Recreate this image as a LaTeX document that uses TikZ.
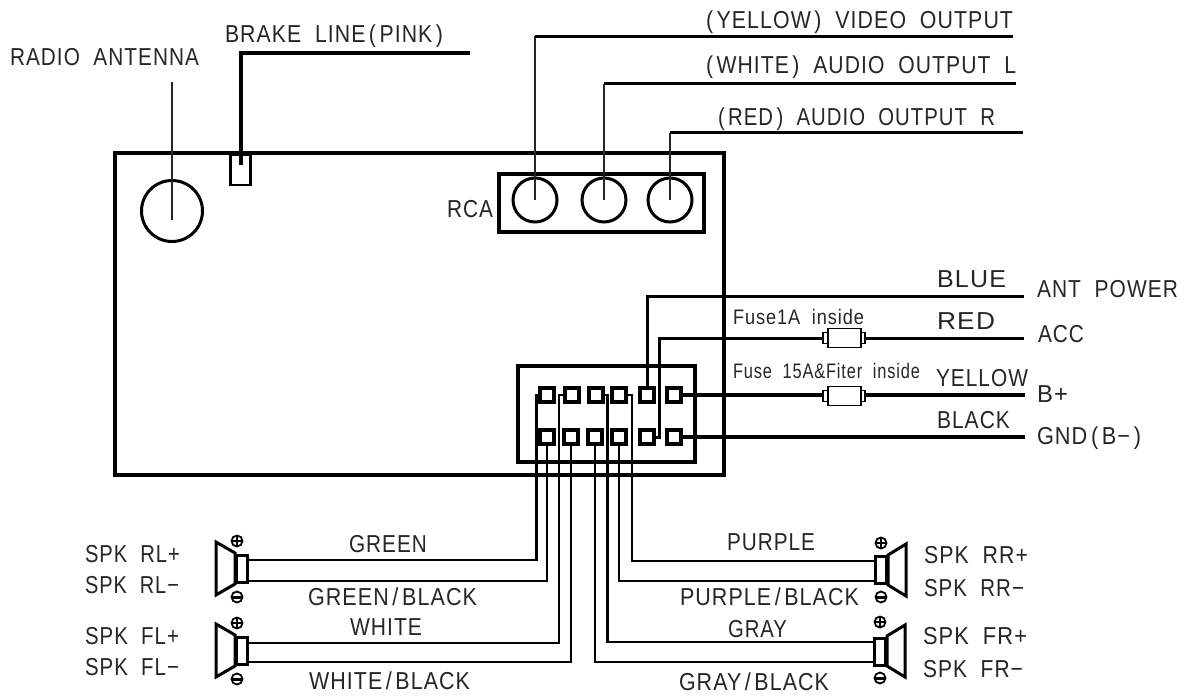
\documentclass[tikz,border=0pt]{standalone}
\usepackage{fontspec}
\usepackage{graphicx}
\setmainfont[LetterSpace=5]{Liberation Sans}
\usetikzlibrary{calc}
\newcommand\Fit[2]{\resizebox{#1pt}{\height}{#2}}
\newcommand\lab[5][lbl]{\node[#1] (#2) at (#3) {\Fit{#4}{#5}};}
\newcommand\gap{\hspace{.65em}}
\tikzset{
  lbl/.style={anchor=base west,inner sep=0pt,outer sep=0pt,font=\fontsize{24.5}{25}\selectfont,text=black!85},
  small/.style={lbl,font=\fontsize{21}{21}\selectfont},
  wire/.style={draw=black,line width=3pt,line join=miter},
  fatwire/.style={draw=black,line width=4pt,line join=miter},
  thinwire/.style={draw=black,line width=2.7pt,line join=miter},
  hair/.style={draw=black!85,line width=1.3pt},
  heavy/.style={draw=black,line width=4pt,line join=miter},
  pinbox/.style={draw=black,fill=white,line width=4pt,minimum width=13.5pt,minimum height=14pt,inner sep=0pt,outer sep=0pt},
  jack/.style={circle,draw=black,line width=3pt,inner sep=0pt,outer sep=0pt},
  fusebody/.style={draw=black,fill=white,line width=1.8pt,minimum width=33pt,minimum height=19pt,inner sep=0pt,outer sep=0pt},
  fusetab/.style={draw=black,fill=white,line width=1.4pt,minimum width=42pt,minimum height=11pt,inner sep=0pt,outer sep=0pt},
  spkbox/.style={draw=black,fill=white,line width=3.2pt,minimum width=11pt,minimum height=27pt,inner sep=0pt,outer sep=0pt},
  cone/.style={draw=black,fill=white,line width=3pt,line join=miter},
  sign/.style={draw=black,line width=1.8pt},
}
\newcommand\plussign[1]{\draw[sign] (#1) circle (5.5pt); \draw[sign,line width=2pt] ($(#1)+(-5.5,0)$) -- ($(#1)+(5.5,0)$) ($(#1)+(0,-5.5)$) -- ($(#1)+(0,5.5)$);}
\newcommand\minussign[1]{\draw[sign] (#1) circle (5.5pt); \draw[sign,line width=3pt] ($(#1)+(-5,0)$) -- ($(#1)+(5,0)$);}
\begin{document}
\begin{tikzpicture}[x=1pt,y=-1pt]
\useasboundingbox[fill=white] (0,0) rectangle (1189,698);
% main unit
\node[draw=black,line width=4pt,minimum width=609pt,minimum height=321pt,inner sep=0pt,outer sep=0pt] (unit) at (419.5,314) {};
% antenna
\node[jack,minimum size=61pt] (ant) at (172,211) {};
\coordinate (antTop) at (172,82);
\coordinate (antEnd) at (172,220);
\draw[hair] (antTop) -- (antEnd);
% brake
\coordinate (brakeEnd) at (470,53);
\coordinate (brakeTip) at (240.5,165);
\node[draw=black,line width=2.8pt,minimum width=20pt,minimum height=30pt,inner sep=0pt,outer sep=0pt] (brake) at (240.5,170) {};
\draw[heavy] (brakeTip) -- (brakeTip |- brakeEnd) -- (brakeEnd);
% RCA
\node[draw=black,line width=4pt,minimum width=205pt,minimum height=58pt,inner sep=0pt,outer sep=0pt] (rca) at (601.5,203) {};
\coordinate (vidEnd) at (1013,36.5);
\coordinate (audLEnd) at (1016,84);
\coordinate (audREnd) at (1023,133);
\node[jack,minimum size=44pt] (j1) at (535,200) {};
\node[jack,minimum size=44pt] (j2) at (604,200) {};
\node[jack,minimum size=44pt] (j3) at (670,200) {};
\draw[hair] (j1.center) -- (j1.center |- vidEnd);
\draw[hair] (j2.center) -- (j2.center |- audLEnd);
\draw[hair,line width=2pt] (j3.center) -- (j3.center |- audREnd);
\draw[wire,line width=2.6pt] (j1.center |- vidEnd) -- (vidEnd);
\draw[wire] (j2.center |- audLEnd) -- (audLEnd);
\draw[wire] (j3.center |- audREnd) -- (audREnd);
% connector housing
\node[draw=black,line width=4pt,minimum width=177pt,minimum height=96pt,inner sep=0pt,outer sep=0pt] (conn) at (606.5,414) {};
% free ends on right
\coordinate (blueEnd) at (1024,296);
\coordinate (redEnd) at (1024,338);
\coordinate (yelEnd) at (1025,395);
\coordinate (blkEnd) at (1025,437);
\coordinate (redKnee) at (659,338);
% pins
\foreach \n/\x in {1/547,2/572,3/596,4/619,5/647,6/674}{\node[pinbox] (p\n t) at (\x,395) {};}
\foreach \n/\x in {1/547,2/571,3/595,4/619,5/647,6/674}{\node[pinbox] (p\n b) at (\x,437) {};}
% fuses
\foreach \n/\y in {a/338,b/396}{
  \node[fusetab] (tab\n) at (844,\y) {};
  \node[fusebody] (fuse\n) at (844.5,\y) {};
}
% power wires
\draw[wire] (p5t.north) -- (p5t.north |- blueEnd) -- (blueEnd);
\draw[wire] (p5b.east) -| (redKnee) -- (taba.west);
\draw[wire] (taba.east) -- (redEnd);
\draw[fatwire] (p6t.east) -- (tabb.west |- p6t.east);
\draw[fatwire] (tabb.east |- p6t.east) -- (yelEnd);
\draw[fatwire] (p6b.east) -- (blkEnd);
% speakers
\draw[cone] (216,542) -- (235,553) -- (235,584) -- (216,595) -- cycle;
\draw[cone] (216,624) -- (235,635) -- (235,666) -- (216,677) -- cycle;
\draw[cone] (906,544) -- (888,555) -- (888,585) -- (906,596) -- cycle;
\draw[cone] (905,625) -- (887,636) -- (887,666) -- (905,677) -- cycle;
\node[spkbox] (rl) at (242,569) {};
\node[spkbox] (fl) at (242,651) {};
\node[spkbox] (rr) at (881,570) {};
\node[spkbox] (fr) at (880,652) {};
\plussign{237,541} \minussign{237,597}
\plussign{237,623} \minussign{237,679}
\plussign{881,543} \minussign{881,597}
\plussign{880,622} \minussign{880,678}
% speaker wires
\coordinate (w1) at (536.5,560);
\coordinate (w2) at (548,581);
\coordinate (w3) at (559,643);
\coordinate (w4) at (571.5,662);
\coordinate (w5) at (594,662);
\coordinate (w6) at (607.5,642);
\coordinate (w7) at (619,581);
\coordinate (w8) at (632,561);
\draw[thinwire] (p1t.west) -| (w1) -- (rl.east |- w1);
\draw[thinwire] (p1b.south) |- (rl.east |- w2);
\draw[thinwire] (p2t.west) -| (w3) -- (fl.east |- w3);
\draw[thinwire] (p2b.south) |- (fl.east |- w4);
\draw[thinwire] (p3b.south) |- (fr.west |- w5);
\draw[thinwire] (p3t.east) -| (w6) -- (fr.west |- w6);
\draw[thinwire] (p4b.south) |- (rr.west |- w7);
\draw[thinwire] (p4t.east) -| (w8) -- (rr.west |- w8);
% labels
\lab{t1}{10,66}{189}{RADIO\gap ANTENNA}
\lab{t2}{225,43}{218}{BRAKE\gap LINE\,(\,PINK\,)}
\lab{t3}{706,29}{307}{(\,YELLOW\,)\gap VIDEO\gap OUTPUT}
\lab{t4}{706,74}{310}{(\,WHITE\,)\gap AUDIO\gap OUTPUT\gap L}
\lab{t5}{718,125}{277}{(\,RED\,)\gap AUDIO\gap OUTPUT\gap R}
\lab{t6}{447,217}{46}{RCA}
\lab{t7}{937,287}{69}{BLUE}
\lab{t8}{1037,297}{141}{ANT\gap POWER}
\lab[small]{t9}{733,324}{131}{Fuse1A\gap inside}
\lab{t10}{937,329}{58}{RED}
\lab{t11}{1038,342}{46}{ACC}
\lab[small]{t12}{733,378}{187}{Fuse\gap 15A\&Fiter\gap inside}
\lab{t13}{936,386}{92}{YELLOW}
\lab{t14}{1037,402}{31}{B+}
\lab{t15}{937,428}{73}{BLACK}
\lab{t16}{1037,444}{104}{GND\,(\,B−\,)}
\lab{t17}{349,552}{78}{GREEN}
\lab{t18}{308,605}{169}{GREEN\,/\,BLACK}
\lab{t19}{350,635}{72}{WHITE}
\lab{t20}{309,689}{161}{WHITE\,/\,BLACK}
\lab{t21}{727,550}{88}{PURPLE}
\lab{t22}{680,605}{179}{PURPLE\,/\,BLACK}
\lab{t23}{728,637}{59}{GRAY}
\lab{t24}{679,690}{150}{GRAY\,/\,BLACK}
\lab{t25}{85,562}{95}{SPK\gap RL+}
\lab{t26}{85,593}{94}{SPK\gap RL−}
\lab{t27}{85,644}{94}{SPK\gap FL+}
\lab{t28}{85,675}{94}{SPK\gap FL−}
\lab{t29}{924,563}{104}{SPK\gap RR+}
\lab{t30}{924,596}{100}{SPK\gap RR−}
\lab{t31}{923,644}{104}{SPK\gap FR+}
\lab{t32}{923,677}{100}{SPK\gap FR−}
\end{tikzpicture}
\end{document}
